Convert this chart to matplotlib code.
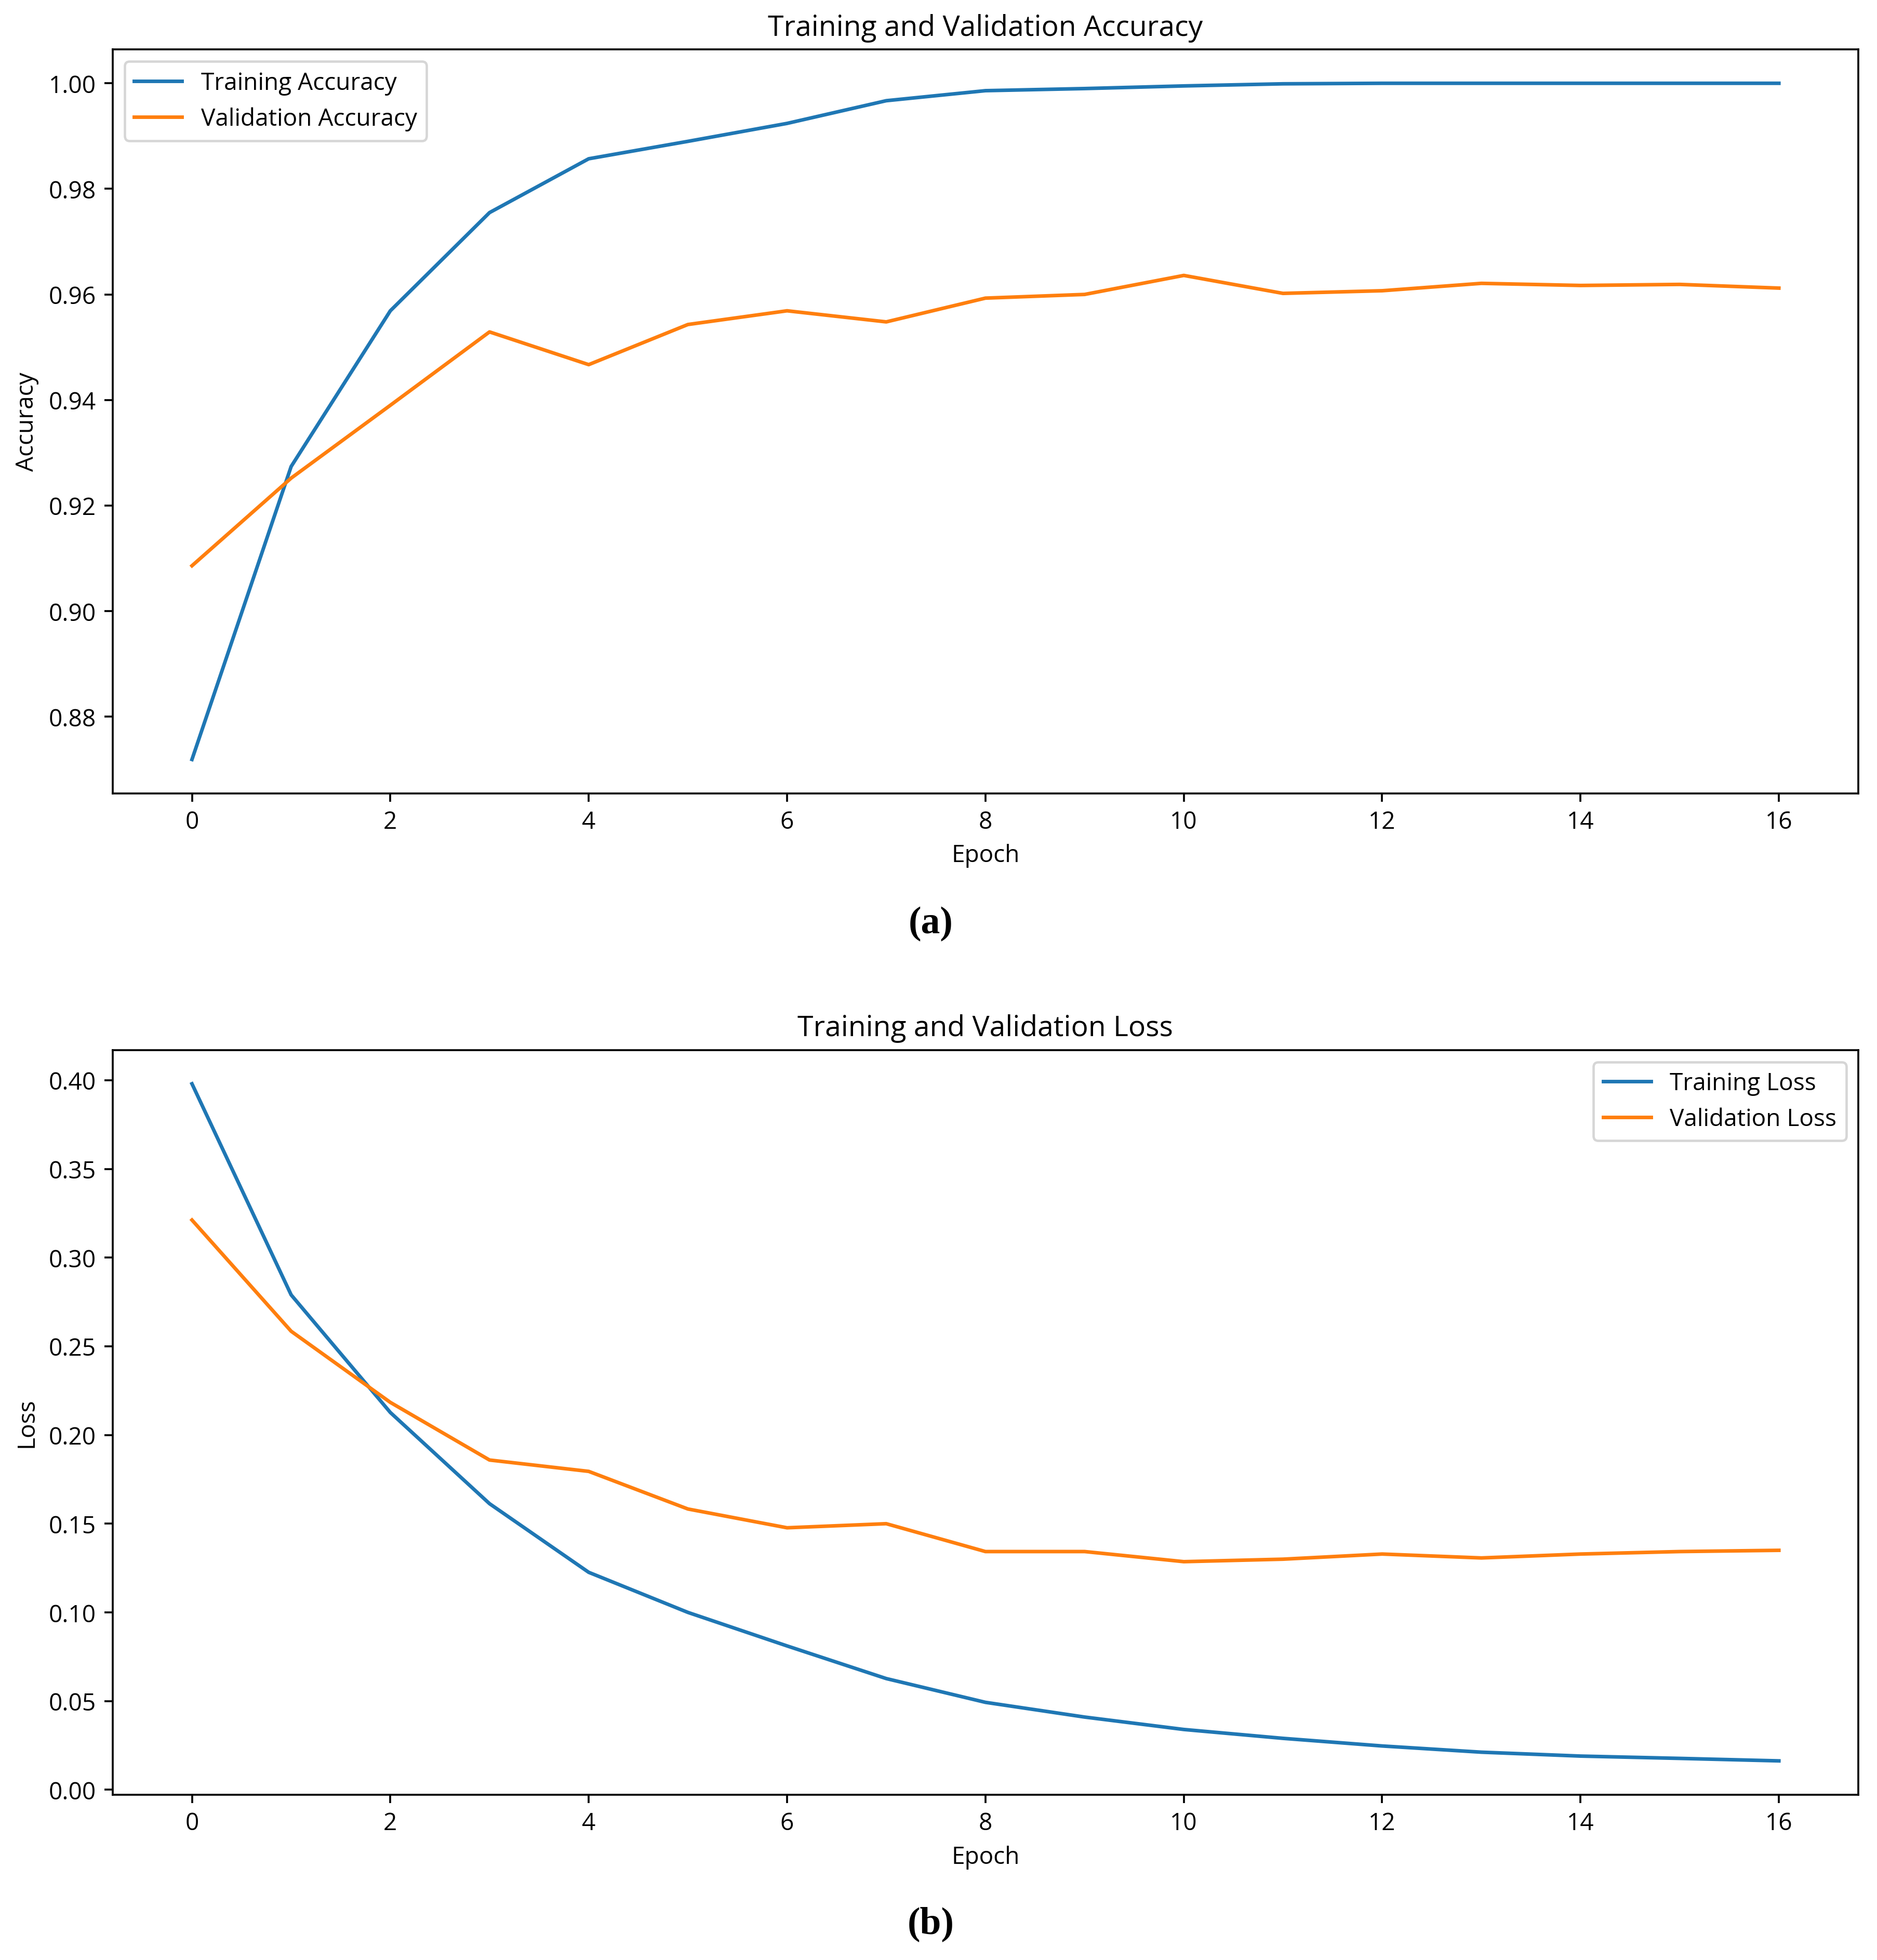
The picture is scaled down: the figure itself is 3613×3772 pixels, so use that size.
import matplotlib
matplotlib.use('Agg')
import matplotlib.pyplot as plt
import matplotlib.ticker as mtick


#-------------------------------------------------------------------------------
# Data
#-------------------------------------------------------------------------------

epochs = list(range(17))

train_acc = [0.8719, 0.9274, 0.9569, 0.9755, 0.9857, 0.9890, 0.9924, 0.9967,
             0.9986, 0.9990, 0.9995, 0.9999, 1.0000, 1.0000, 1.0000, 1.0000, 1.0000]
val_acc = [0.9086, 0.9252, 0.9390, 0.9529, 0.9467, 0.9543, 0.9569, 0.9548,
           0.9593, 0.9600, 0.9636, 0.9602, 0.9607, 0.9621, 0.9617, 0.9619, 0.9612]

train_loss = [0.398, 0.279, 0.2127, 0.1613, 0.1226, 0.1000, 0.0811, 0.0627,
              0.0493, 0.0410, 0.0340, 0.0290, 0.0247, 0.0212, 0.0190, 0.0177, 0.0163]
val_loss = [0.3212, 0.2585, 0.2184, 0.1859, 0.1795, 0.1583, 0.1477, 0.1500,
            0.1343, 0.1343, 0.1286, 0.1300, 0.1329, 0.1307, 0.1329, 0.1343, 0.1350]

captions = ['(a)', '(b)']


#-------------------------------------------------------------------------------
# Plot
#-------------------------------------------------------------------------------

plt.rcParams['font.family'] = ['Open Sans', 'DejaVu Sans']
plt.rcParams['font.size'] = 10

DPI = 331.2
fig = plt.figure(figsize=(3613 / DPI, 3773 / DPI), dpi=DPI)

ax1 = fig.add_axes([0.060, 0.5951, 0.930, 0.3794])
ax2 = fig.add_axes([0.060, 0.0843, 0.930, 0.3799])

# Accuracy
ax1.plot(epochs, train_acc, color='#1f77b4', label='Training Accuracy')
ax1.plot(epochs, val_acc, color='#ff7f0e', label='Validation Accuracy')
ax1.set_title('Training and Validation Accuracy', fontsize=12)
ax1.set_xlabel('Epoch')
ax1.set_ylabel('Accuracy')
ax1.set_xticks(range(0, 17, 2))
ax1.set_yticks([0.88, 0.90, 0.92, 0.94, 0.96, 0.98, 1.00])
ax1.yaxis.set_major_formatter(mtick.FormatStrFormatter('%.2f'))
ax1.legend(loc='upper left')

# Loss
ax2.plot(epochs, train_loss, color='#1f77b4', label='Training Loss')
ax2.plot(epochs, val_loss, color='#ff7f0e', label='Validation Loss')
ax2.set_title('Training and Validation Loss', fontsize=12)
ax2.set_xlabel('Epoch')
ax2.set_ylabel('Loss')
ax2.set_xticks(range(0, 17, 2))
ax2.set_yticks([0.0, 0.05, 0.10, 0.15, 0.20, 0.25, 0.30, 0.35, 0.40])
ax2.yaxis.set_major_formatter(mtick.FormatStrFormatter('%.2f'))
ax2.legend(loc='upper right')

# Sub-figure captions
fig.text(0.496, 1 - 738 / 1566, captions[0], ha='center', va='center',
         fontsize=16, fontweight='bold', family='Liberation Serif')
fig.text(0.496, 1 - 1537 / 1566, captions[1], ha='center', va='center',
         fontsize=16, fontweight='bold', family='Liberation Serif')

fig.savefig('out.png', dpi=DPI)
